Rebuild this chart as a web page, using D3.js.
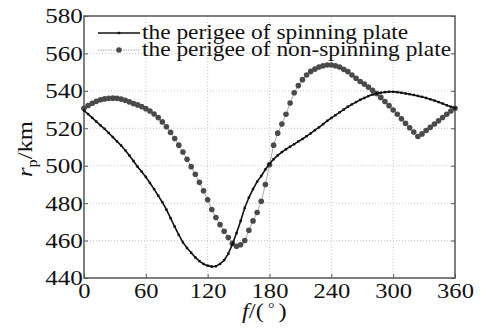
<!DOCTYPE html>
<html>
<head>
<meta charset="utf-8">
<script src="https://cdn.jsdelivr.net/npm/d3@7"></script>
<style>
  body { margin: 0; background: #fff; }
  text { font-family: "Liberation Serif", "Times New Roman", serif; fill: #111; }
</style>
</head>
<body>
<svg id="chart" width="481" height="328"></svg>
<script>
// 数据：真近点角 f（度），每 4 度一个点
var fValues = d3.range(0, 361, 4);

// 旋转板的近地点高度
var spinning = [
  529.5, 527.6, 525.6, 523.6, 521.6, 519.7, 517.5, 515.3, 513, 510.8,
  508.3, 505.5, 502.5, 499.5, 496.8, 494, 490.8, 487.5, 484, 480.5,
  476.5, 472, 467.5, 463, 459, 456, 453.5, 451, 449, 447.5,
  446.6, 446.1, 446.3, 447.5, 449.5, 453, 458, 464, 470.5, 477.5,
  483, 487.5, 491.5, 494.5, 498, 501, 503.5, 505.5, 507.3, 508.8,
  510.2, 511.5, 513, 514.3, 515.8, 517.3, 519, 520.5, 522.2, 524,
  525.5, 527, 528.5, 530, 531.5, 532.8, 534, 535.2, 536.2, 537.2,
  538, 538.6, 539, 539.3, 539.5, 539.5, 539.3, 539, 538.6, 538.2,
  537.8, 537.3, 536.8, 536.2, 535.5, 534.8, 534, 533.2, 532.3, 531.5,
  530.7
];

// 非旋转板的近地点高度
var nonSpinning = [
  530.7, 532.2, 533.4, 534.4, 535.2, 535.7, 536, 536.1, 536, 535.6,
  535, 534.1, 533.2, 532.5, 531.6, 530.5, 529.2, 527.6, 525.7, 523.4,
  520.8, 517.8, 514.5, 511, 507.3, 503.4, 499.5, 495.4, 491.1, 486.6,
  481.8, 476.6, 472.3, 468.5, 465, 461.6, 458.5, 457, 457.8, 460,
  465.5, 470.5, 475, 481, 490, 500.5, 511, 517.4, 522.3, 527.5,
  533.5, 539, 542.8, 546, 548.5, 550.4, 551.6, 552.7, 553.4, 553.8,
  553.8, 553.4, 552.7, 551.5, 550.3, 548.5, 546.7, 545, 543.6, 542,
  540.3, 538.5, 536.5, 534.3, 532.1, 529.8, 527.5, 525.1, 522.7, 520.3,
  518, 515.6, 517, 518.8, 520.5, 522.3, 524, 525.8, 527.5, 529.2,
  530.7
];

var xTicks = [0, 60, 120, 180, 240, 300, 360];
var yTicks = [440, 460, 480, 500, 520, 540, 560, 580];
var legendLabels = ["the perigee of spinning plate", "the perigee of non-spinning plate"];

var svg = d3.select("#chart");

var pLeft = 84, pRight = 455, pTop = 16, pBottom = 278;
var stretch = 1.17; // 原图文字略横向拉伸

var x = d3.scaleLinear().domain([0, 360]).range([pLeft, pRight]);
var y = d3.scaleLinear().domain([440, 580]).range([pBottom, pTop]);

// 网格线
svg.append("g").selectAll("line").data(xTicks.slice(1, -1)).enter().append("line")
  .attr("x1", d => x(d)).attr("x2", d => x(d))
  .attr("y1", pTop).attr("y2", pBottom)
  .attr("stroke", "#bbb").attr("stroke-width", 0.8)
  .attr("stroke-dasharray", "1,2");

svg.append("g").selectAll("line").data(yTicks.slice(1, -1)).enter().append("line")
  .attr("x1", pLeft).attr("x2", pRight)
  .attr("y1", d => y(d)).attr("y2", d => y(d))
  .attr("stroke", "#bbb").attr("stroke-width", 0.8)
  .attr("stroke-dasharray", "1,2");

// 坐标轴
svg.append("g")
  .attr("transform", "translate(0," + pBottom + ")")
  .call(d3.axisBottom(x).tickValues(xTicks).tickSize(-4).tickPadding(5))
  .call(g => g.select(".domain").remove())
  .call(g => g.selectAll("line").attr("stroke", "#555"))
  .call(g => g.selectAll("text").attr("font-size", 21)
    .attr("font-family", "Liberation Serif").attr("fill", "#111")
    .attr("transform", "scale(" + stretch + ",1)"));

svg.append("g")
  .attr("transform", "translate(" + pLeft + ",0)")
  .call(d3.axisLeft(y).tickValues(yTicks).tickSize(-4).tickPadding(1))
  .call(g => g.select(".domain").remove())
  .call(g => g.selectAll("line").attr("stroke", "#555"))
  .call(g => g.selectAll("text").attr("font-size", 21.5)
    .attr("font-family", "Liberation Serif").attr("fill", "#111")
    .attr("transform", "scale(" + stretch + ",1)"));

// 右侧刻度
svg.append("g")
  .attr("transform", "translate(" + pRight + ",0)")
  .call(d3.axisRight(y).tickValues(yTicks).tickSize(-4).tickFormat(""))
  .call(g => g.select(".domain").remove())
  .call(g => g.selectAll("line").attr("stroke", "#555"));

// 边框
svg.append("rect")
  .attr("x", pLeft).attr("y", pTop)
  .attr("width", pRight - pLeft).attr("height", pBottom - pTop)
  .attr("fill", "none").attr("stroke", "#555").attr("stroke-width", 1.5);

var nsData = fValues.map((f, i) => [f, nonSpinning[i]]);
var sData = fValues.map((f, i) => [f, spinning[i]]);

var line = d3.line().x(d => x(d[0])).y(d => y(d[1]));

// 非旋转板曲线
svg.append("path")
  .attr("d", line(nsData))
  .attr("fill", "none").attr("stroke", "#aaa").attr("stroke-width", 1);

svg.append("g").selectAll("circle").data(nsData).enter().append("circle")
  .attr("cx", d => x(d[0])).attr("cy", d => y(d[1]))
  .attr("r", 2.8).attr("fill", "#4a4a4a");

// 旋转板曲线
svg.append("path")
  .attr("d", line(sData))
  .attr("fill", "none").attr("stroke", "#111").attr("stroke-width", 1.6);

svg.append("g").selectAll("rect").data(sData).enter().append("rect")
  .attr("x", d => x(d[0]) - 1.2).attr("y", d => y(d[1]) - 1.2)
  .attr("width", 2.4).attr("height", 2.4).attr("fill", "#111");

// 图例
var lg = svg.append("g");
lg.append("line").attr("x1", 98).attr("x2", 140).attr("y1", 33).attr("y2", 33)
  .attr("stroke", "#111").attr("stroke-width", 1.6);
lg.append("rect").attr("x", 117.8).attr("y", 31.8).attr("width", 2.4).attr("height", 2.4).attr("fill", "#111");
lg.append("line").attr("x1", 98).attr("x2", 140).attr("y1", 50).attr("y2", 50)
  .attr("stroke", "#aaa").attr("stroke-width", 1).attr("stroke-dasharray", "1.5,1");
lg.append("circle").attr("cx", 119).attr("cy", 50).attr("r", 2.8).attr("fill", "#4a4a4a");

lg.selectAll("text").data(legendLabels).enter().append("text")
  .attr("transform", (d, i) => "translate(142," + (39 + i * 17) + ") scale(" + stretch + ",1)")
  .attr("font-size", 20)
  .text(d => d);

// 坐标轴标题
var xl = svg.append("text")
  .attr("transform", "translate(242,318) scale(" + stretch + ",1)")
  .attr("font-size", 21);
xl.append("tspan").attr("font-style", "italic").text("f");
xl.append("tspan").text("/(");
xl.append("tspan").attr("font-size", 14).attr("dy", -5).text(" ° ");
xl.append("tspan").attr("dy", 5).text(")");

var yl = svg.append("text")
  .attr("transform", "translate(32,177) rotate(-90) scale(" + stretch + ",1)")
  .attr("font-size", 21);
yl.append("tspan").attr("font-style", "italic").text("r");
yl.append("tspan").attr("font-size", 14).attr("dy", 5).text("p");
yl.append("tspan").attr("dy", -5).text("/km");
</script>
</body>
</html>
